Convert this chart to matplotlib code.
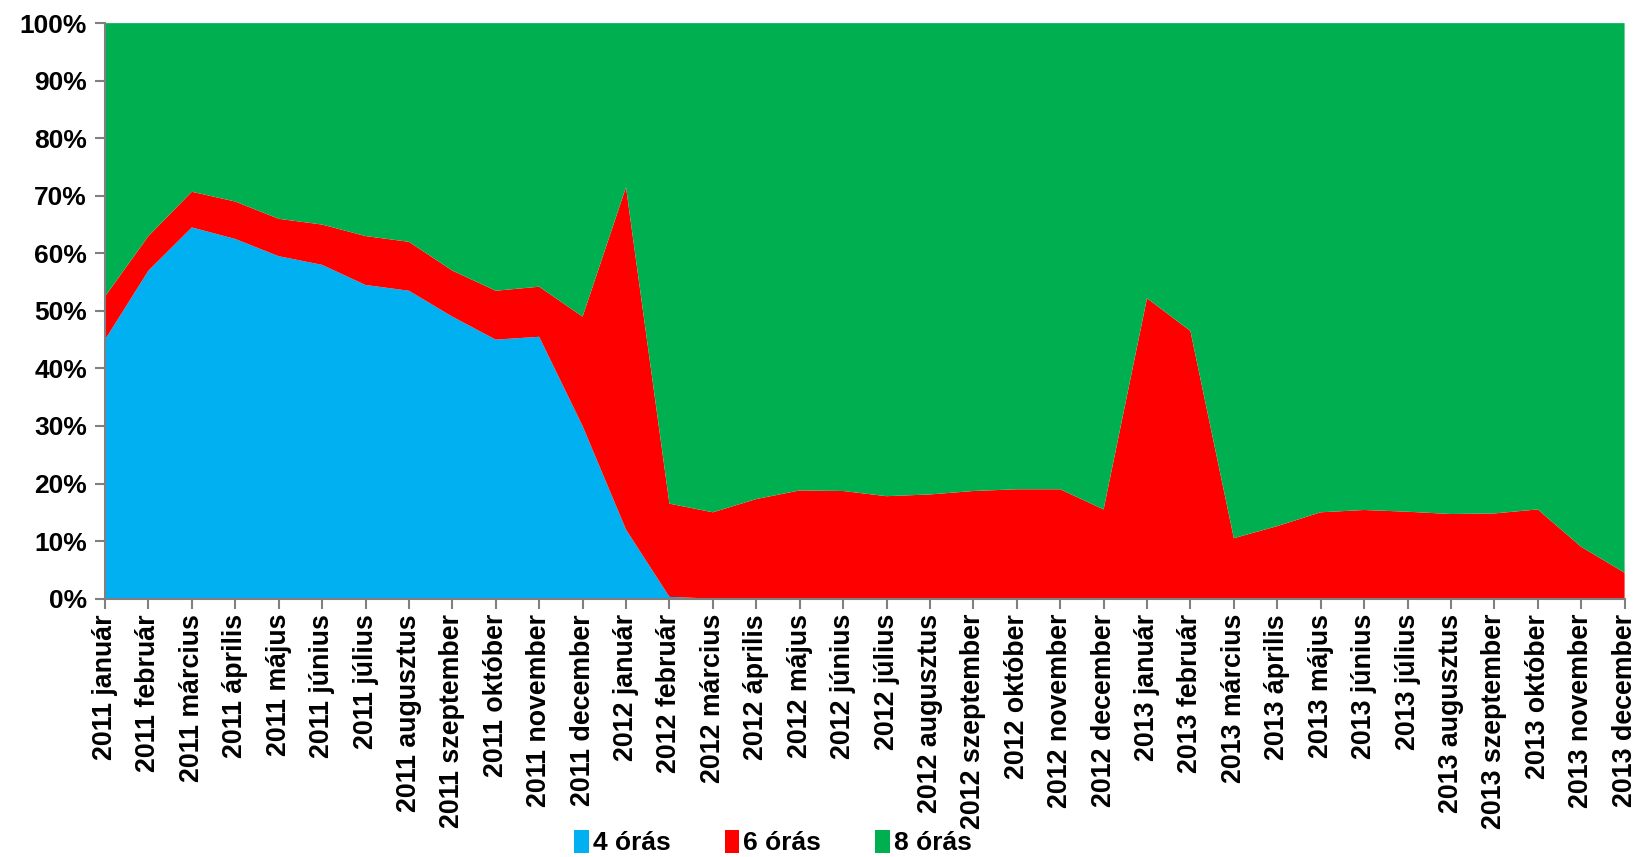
import matplotlib
matplotlib.use("Agg")
import matplotlib.pyplot as plt
from matplotlib.patches import Patch
from matplotlib.ticker import FuncFormatter

plt.rcParams["font.family"] = ["Liberation Sans", "DejaVu Sans"]
plt.rcParams["font.weight"] = "bold"

months = ["január", "február", "március", "április", "május", "június",
          "július", "augusztus", "szeptember", "október", "november", "december"]
labels = [f"{y} {m}" for y in (2011, 2012, 2013) for m in months]

# 4 órás share (%)
ora4 = [45, 57, 64.5, 62.5, 59.5, 58, 54.5, 53.5, 49, 45, 45.5, 30,
        12, 0.3, 0, 0, 0, 0, 0, 0, 0, 0, 0, 0,
        0, 0, 0, 0, 0, 0, 0, 0, 0, 0, 0, 0]
# cumulative 4 + 6 órás (%)
ora4_6 = [52.5, 63, 70.7, 69, 66, 65, 63, 62, 57, 53.5, 54.2, 49,
          71.5, 16.5, 15, 17.3, 18.8, 18.7, 17.8, 18.1, 18.7, 19, 19, 15.5,
          52.2, 46.5, 10.5, 12.6, 15, 15.4, 15.1, 14.7, 14.8, 15.5, 9, 4.5]

ora6 = [c - a for a, c in zip(ora4, ora4_6)]
ora8 = [100 - c for c in ora4_6]

colors = ["#00B0F0", "#FF0000", "#00B050"]
names = ["4 órás", "6 órás", "8 órás"]

fig = plt.figure(figsize=(16.41, 8.57), dpi=100)
ax = fig.add_axes([0.064, 0.3015, 0.926, 0.6715])

x = list(range(len(labels)))
ax.stackplot(x, ora4, ora6, ora8, colors=colors, linewidth=0)

ax.set_xlim(0, len(labels) - 1)
ax.set_ylim(0, 100)
ax.set_yticks(range(0, 101, 10))
ax.yaxis.set_major_formatter(FuncFormatter(lambda v, p: f"{v:.0f}%"))
ax.set_xticks(x)
ax.set_xticklabels(labels, rotation=90)

for s in ("top", "right"):
    ax.spines[s].set_visible(False)
for s in ("left", "bottom"):
    ax.spines[s].set_color("#808080")
    ax.spines[s].set_linewidth(1.5)
ax.tick_params(axis="both", colors="#808080", width=1.5, length=7,
               labelcolor="black", labelsize=19)
ax.tick_params(axis="x", labelsize=19.3, pad=4)
ax.tick_params(axis="y", pad=6)

handles = [Patch(facecolor=c, edgecolor="none") for c in colors]
fig.legend(handles, names, loc="center", bbox_to_anchor=(0.471, 0.017),
           ncol=3, frameon=False, fontsize=19, handlelength=0.55,
           handleheight=1.0, handletextpad=0.15, columnspacing=2.05)

fig.savefig("out.png", dpi=100)
